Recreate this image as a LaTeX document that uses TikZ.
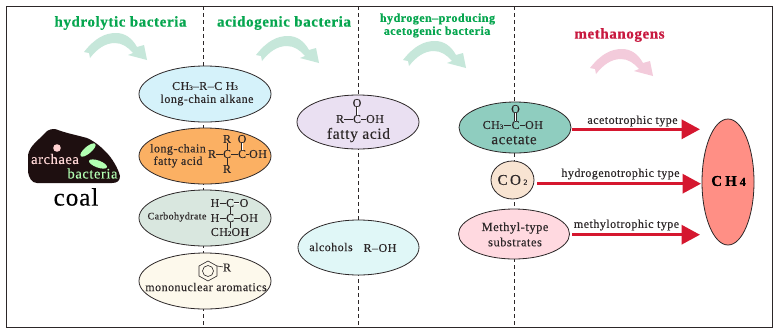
\documentclass[tikz,border=0pt]{standalone}
\usepackage{fontspec}
\setmainfont{Liberation Serif}[LetterSpace=4,FakeBold=0.25,BoldFeatures={FakeBold=0.6}]
\usetikzlibrary{arrows.meta,calc,shapes.geometric}
\definecolor{inkc}{HTML}{2C2728}
\definecolor{headgreen}{HTML}{06A64F}
\definecolor{headred}{HTML}{C8193F}
\definecolor{flowred}{HTML}{D5172F}
\definecolor{bandgreen}{HTML}{C6E7DA}
\definecolor{bandpink}{HTML}{F3CBDB}
\definecolor{coalc}{HTML}{1E0F10}
\definecolor{fillalk}{HTML}{D5F2FA}
\definecolor{fillora}{HTML}{FBB063}
\definecolor{fillcar}{HTML}{D9E7DF}
\definecolor{fillaro}{HTML}{FDF9EC}
\definecolor{fillfat}{HTML}{EAE0F2}
\definecolor{fillalc}{HTML}{E0F7F7}
\definecolor{fillace}{HTML}{8FCDBF}
\definecolor{fillcot}{HTML}{F8E4D2}
\definecolor{fillmet}{HTML}{FFD9E0}
\definecolor{fillchf}{HTML}{FF8F85}
\newcommand{\fsz}[1]{\fontsize{#1}{#1}\selectfont}
\newcommand{\lowidx}[1]{{\fontsize{7}{7}\selectfont #1}}
\tikzset{
  x=1pt,y=-1pt,
  txt/.style={inner sep=0pt,text=inkc,font=\fsz{12}},
  atom/.style={inner sep=0pt,text=inkc,font=\fsz{12}},
  head/.style={inner sep=0pt,font=\bfseries\fsz{#1}},
  blob/.style={draw=inkc,line width=0.8pt,ellipse,minimum width=132pt,minimum height=56pt,inner sep=0pt},
  divider/.style={draw=inkc,line width=0.8pt,dash pattern=on 4pt off 3pt},
  bond/.style={draw=inkc,line width=0.6pt},
  flow/.style={draw=flowred,line width=3.4pt,-{Triangle[length=18.5pt,width=19pt,fill=flowred]}},
  bandarrow/.pic={
    \fill[pic actions] (84,52) .. controls (95,38) and (105,33) .. (116,33)
      .. controls (125,33) and (132,38) .. (137,47) -- (144,45) -- (147,60)
      -- (128,55) -- (133,53) .. controls (128,47) and (122,43) .. (115,43)
      .. controls (105,43) and (97,49) .. (90,58) -- (89,53) -- cycle;
  },
}
\begin{document}
\begin{tikzpicture}
\useasboundingbox (0,0) rectangle (776,333);
\fill[white] (0,0) rectangle (776,333);

% column dividers sit behind the substrate ellipses
\coordinate (d1t) at (203.5,6); \coordinate (d1b) at (203.5,327);
\coordinate (d2t) at (358,6);   \coordinate (d2b) at (358,327);
\coordinate (d3t) at (514,6);   \coordinate (d3b) at (514,327);
\draw[divider] (d1t) -- (d1b);
\draw[divider] (d2t) -- (d2b);
\draw[divider] (d3t) -- (d3b);

% outer frame
\draw[draw=inkc,line width=1pt] (6.5,6.5) rectangle (772,327);

% stage headings
\node[head=15,text=headgreen] (h1) at (120.5,23) {hydrolytic bacteria};
\node[head=15,text=headgreen] (h2) at (284,23) {acidogenic bacteria};
\node[head=12,text=headgreen] (h3a) at (437.5,19) {hydrogen–producing};
\node[head=12,text=headgreen] (h3b) at (437,32) {acetogenic bacteria};
\node[head=15,text=headred] (h4) at (619.5,35) {methanogens};

% curved stage arrows
\pic[fill=bandgreen] at (0,0) {bandarrow};
\pic[fill=bandgreen] at (172,3) {bandarrow};
\pic[fill=bandgreen] at (319,8) {bandarrow};
\pic[fill=bandpink] at (506,16) {bandarrow};

% coal particle
\fill[fill=coalc] (28,155) .. controls (30,145) and (38,141) .. (47,131)
  .. controls (52,128) and (56,129) .. (58,130) .. controls (66,133) and (76,135) .. (87,138)
  .. controls (96,142) and (102,148) .. (106,152) .. controls (112,158) and (118,168) .. (120,176)
  .. controls (120,181) and (117,183) .. (112,183) -- (37,183)
  .. controls (32,183) and (29,178) .. (28,172) -- cycle;
\fill[fill=pink!70!white] (57,148) circle (3.8);
\fill[fill=green!30!white,rotate around={40:(88,150)}] (88,150) ellipse (9.5 and 3.5);
\fill[fill=green!30!white,rotate around={-20:(98,164)}] (98,164) ellipse (9.5 and 3.5);
\node[inner sep=0pt,text=pink!65!white,font=\fsz{14.5}] (arch) at (55,159) {archaea};
\node[inner sep=0pt,text=green!30!white,font=\fsz{14.5}] (bact) at (92.5,173.5) {bacteria};
\node[inner sep=0pt,text=black,font=\fsz{25}] (coal) at (76,197) {coal};

% first column
\node[blob,fill=fillalk] (alkane) at (205,94) {};
\node[txt] at (205,86) {CH\lowidx{3}–R–C H\lowidx{3}};
\node[txt] at (207,100) {long-chain alkane};

\node[blob,fill=fillora] (fatty) at (205,156) {};
\node[txt] at (178,149.5) {long-chain};
\node[txt] at (178,162) {fatty acid};
\node[atom] (fr) at (212,154) {R};
\node[atom] (fc1) at (227,154) {C};
\node[atom] (fc2) at (242,154) {C};
\node[atom] (foh) at (258,154) {OH};
\node[atom] (frt) at (227,139) {R};
\node[atom] (frb) at (227,169) {R};
\node[atom] (fo) at (242,139) {O};
\draw[bond] (fr) -- (fc1);
\draw[bond] (fc1) -- (fc2);
\draw[bond] (fc2) -- (foh);
\draw[bond] (frt) -- (fc1);
\draw[bond] (fc1) -- (frb);
\draw[bond,double,double distance=1pt] (fo) -- (fc2);

\node[blob,fill=fillcar] (carb) at (205,218) {};
\node[txt,font=\fsz{10}] at (177,217) {Carbohydrate};
\node[atom] (ch1) at (215,203) {H};
\node[atom] (cc1) at (230,203) {C};
\node[atom] (co1) at (244,203) {O};
\node[atom] (ch2) at (215,218) {H};
\node[atom] (cc2) at (230,218) {C};
\node[atom] (co2) at (249,218) {OH};
\node[atom] (cch) at (230,232) {CH\lowidx{2}OH};
\draw[bond] (ch1) -- (cc1);
\draw[bond,double,double distance=1pt] (cc1) -- (co1);
\draw[bond] (ch2) -- (cc2);
\draw[bond] (cc2) -- (co2);
\draw[bond] (cc1) -- (cc2);
\draw[bond] (cc2) -- (cch);

\node[blob,fill=fillaro] (arom) at (205,281) {};
\coordinate (ring) at (208,271);
\draw[bond] ($(ring)+(0,-10)$) -- ($(ring)+(9,-5)$) -- ($(ring)+(9,5)$) -- ($(ring)+(0,10)$)
  -- ($(ring)+(-9,5)$) -- ($(ring)+(-9,-5)$) -- cycle;
\draw[bond] (ring) circle (5.5);
\node[atom] (ar) at (227,267.5) {R};
\draw[bond] ($(ring)+(9,-5)$) -- (ar);
\node[txt,font=\fsz{12}] at (206,287) {mononuclear aromatics};

% second column
\node[blob,fill=fillfat,minimum width=122pt,minimum height=54pt] (facid) at (358,122) {};
\node[atom] (ao) at (357,103) {O};
\node[atom] (ar1) at (340,119) {R};
\node[atom] (ac) at (357,119) {C};
\node[atom] (aoh) at (375,119) {OH};
\draw[bond,double,double distance=1pt] (ao) -- (ac);
\draw[bond] (ar1) -- (ac);
\draw[bond] (ac) -- (aoh);
\node[txt,font=\fsz{15.5}] at (358.5,135) {fatty acid};

\node[blob,fill=fillalc,minimum width=121pt,minimum height=55pt] (alc) at (358.5,247.5) {};
\node[txt] at (331,247) {alcohols};
\node[txt] at (380,248) {R–OH};

% third column
\node[blob,fill=fillace,minimum width=112pt,minimum height=51pt] (acet) at (515,127.5) {};
\node[atom] (bo) at (515.5,109) {O};
\node[atom] (bch) at (493,125) {CH\lowidx{3}};
\node[atom] (bc) at (515.5,125) {C};
\node[atom] (boh) at (534,125) {OH};
\draw[bond,double,double distance=1pt] (bo) -- (bc);
\draw[bond] (bch) -- (bc);
\draw[bond] (bc) -- (boh);
\node[txt,font=\fsz{15}] at (514,140) {acetate};

\node[blob,fill=fillcot,minimum width=43pt,minimum height=38pt] (co) at (512.5,180) {};
\node[txt,font=\fsz{15}] at (512.5,180) {C\hspace{2.5pt}O\hspace{2.5pt}{\fsz{8}2}};

\node[blob,fill=fillmet,minimum width=111pt,minimum height=50pt] (meth) at (514,234) {};
\node[txt,font=\fsz{12.5}] at (515,228) {Methyl-type};
\node[txt,font=\fsz{12.5}] at (515,242) {substrates};

% methane
\node[blob,fill=fillchf,minimum width=52pt,minimum height=126pt] (ch4) at (728,182) {};
\node[txt,text=black,font=\bfseries\fsz{15}] at (728.5,181) {C\hspace{3pt}H\hspace{3pt}{\fsz{12}4}};

% pathways into methane
\coordinate (e1) at (700,129.3);
\coordinate (e2) at (701,183.7);
\coordinate (e3) at (700,234.7);
\coordinate (s1) at (572,129.3);
\coordinate (s2) at (537,183.7);
\coordinate (s3) at (572,234.7);
\draw[flow] (s1) -- (e1);
\draw[flow] (s2) -- (e2);
\draw[flow] (s3) -- (e3);
\node[txt] (l1) at (632.5,121) {acetotrophic type};
\node[txt] (l2) at (620.5,174) {hydrogenotrophic type};
\node[txt] (l3) at (626.5,225) {methylotrophic type};
\end{tikzpicture}
\end{document}
